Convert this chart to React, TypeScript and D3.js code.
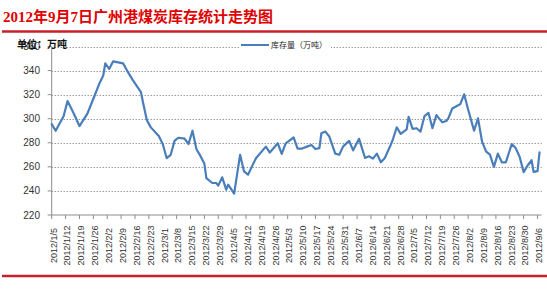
import React from "react";
import * as d3 from "d3";

const title = "2012年9月7日广州港煤炭库存统计走势图";
const seriesName = "库存量（万吨）";
const unitLabel = "单位：万吨";

const dates = [
  "2012/1/5", "2012/1/7", "2012/1/11", "2012/1/13", "2012/1/16", "2012/1/19", "2012/1/23", "2012/1/26",
  "2012/1/29", "2012/1/31", "2012/2/1", "2012/2/3", "2012/2/5", "2012/2/10", "2012/2/12", "2012/2/15",
  "2012/2/19", "2012/2/20", "2012/2/22", "2012/2/24", "2012/2/28", "2012/3/1", "2012/3/3", "2012/3/5",
  "2012/3/7", "2012/3/9", "2012/3/12", "2012/3/14", "2012/3/16", "2012/3/18", "2012/3/20", "2012/3/22",
  "2012/3/23", "2012/3/26", "2012/3/28", "2012/3/29", "2012/3/31", "2012/4/2", "2012/4/3", "2012/4/6",
  "2012/4/9", "2012/4/11", "2012/4/13", "2012/4/17", "2012/4/22", "2012/4/24", "2012/4/28", "2012/4/30",
  "2012/5/2", "2012/5/6", "2012/5/8", "2012/5/10", "2012/5/13", "2012/5/15", "2012/5/17", "2012/5/19",
  "2012/5/20", "2012/5/22", "2012/5/24", "2012/5/27", "2012/5/29", "2012/5/31", "2012/6/3", "2012/6/5",
  "2012/6/8", "2012/6/11", "2012/6/13", "2012/6/15", "2012/6/17", "2012/6/19", "2012/6/21", "2012/6/24",
  "2012/6/25", "2012/6/27", "2012/6/29", "2012/7/2", "2012/7/3", "2012/7/5", "2012/7/7", "2012/7/9",
  "2012/7/11", "2012/7/13", "2012/7/15", "2012/7/17", "2012/7/20", "2012/7/22", "2012/7/23", "2012/7/25",
  "2012/7/28", "2012/7/29", "2012/7/31", "2012/8/2", "2012/8/5", "2012/8/7", "2012/8/9", "2012/8/11",
  "2012/8/13", "2012/8/15", "2012/8/17", "2012/8/19", "2012/8/21", "2012/8/24", "2012/8/26", "2012/8/28",
  "2012/8/30", "2012/9/1", "2012/9/3", "2012/9/4", "2012/9/6", "2012/9/7",
];

const stock = [
  295.5, 290.0, 302.1, 314.7, 304.8, 293.9, 304.3, 316.6,
  329.0, 335.9, 346.0, 341.4, 347.7, 346.0, 340.0, 331.8,
  322.1, 313.9, 298.8, 292.8, 285.6, 279.0, 267.2, 270.0,
  281.8, 284.2, 283.4, 279.0, 290.0, 274.6, 269.1, 262.5,
  250.7, 246.6, 246.6, 244.4, 251.3, 241.1, 245.2, 237.8,
  270.0, 256.2, 253.5, 267.2, 276.8, 271.9, 279.6, 270.8,
  279.6, 284.4, 275.1, 275.1, 277.0, 278.1, 274.8, 275.6,
  288.0, 289.3, 285.2, 271.0, 270.1, 277.0, 281.6, 273.7,
  283.3, 267.4, 268.8, 266.8, 271.0, 263.8, 267.4, 278.4,
  282.5, 292.9, 287.4, 291.2, 301.6, 291.5, 292.1, 289.3,
  302.2, 304.9, 292.1, 303.0, 297.0, 298.1, 300.3, 308.5,
  311.2, 312.0, 320.3, 307.7, 290.1, 300.3, 281.1, 272.9,
  270.1, 260.0, 271.0, 263.8, 263.8, 278.9, 275.6, 268.2,
  255.6, 261.1, 265.5, 255.9, 256.4, 272.0,
];

const tickLabels = [
  "2012/1/5", "2012/1/12", "2012/1/19", "2012/1/26", "2012/2/2", "2012/2/9", "2012/2/16", "2012/2/23",
  "2012/3/1", "2012/3/8", "2012/3/15", "2012/3/22", "2012/3/29", "2012/4/5", "2012/4/12", "2012/4/19",
  "2012/4/26", "2012/5/3", "2012/5/10", "2012/5/17", "2012/5/24", "2012/5/31", "2012/6/7", "2012/6/14",
  "2012/6/21", "2012/6/28", "2012/7/5", "2012/7/12", "2012/7/19", "2012/7/26", "2012/8/2", "2012/8/9",
  "2012/8/16", "2012/8/23", "2012/8/30", "2012/9/6",
];

const xDomain = ["2012/1/5", "2012/9/8"];
const yTicks = [220, 240, 260, 280, 300, 320, 340, 360];

export default function App() {
  const W = 547;
  const H = 301;
  const parse = d3.timeParse("%Y/%m/%d");
  const x = d3
    .scaleTime()
    .domain([parse(xDomain[0]) as Date, parse(xDomain[1]) as Date])
    .range([51.7, 541.5]);
  const y = d3.scaleLinear().domain([220, 360]).range([215, 46.5]);

  const pts: [Date, number][] = dates.map((d, i) => [parse(d) as Date, stock[i]]);
  const line = d3
    .line<[Date, number]>()
    .x((d) => x(d[0]))
    .y((d) => y(d[1]));

  const red = "#c8202a";
  const sans = "'Liberation Sans', Arial, sans-serif";
  const cjk = "'Noto Sans CJK SC', 'Noto Sans', sans-serif";
  const serifCjk = "'Liberation Serif', 'Noto Sans CJK SC', serif";
  const [x0, x1] = x.range();

  return (
    <svg
      width={W}
      height={H}
      style={{ position: "fixed", left: 0, top: 0, background: "#fff" }}
    >
      <rect x={0} y={0} width={W} height={H} fill="#fff" />
      {/* title */}
      <text
        x={3}
        y={22}
        fill="#e00000"
        fontSize={15}
        fontWeight={700}
        fontFamily={serifCjk}
      >
        {title}
      </text>
      <line x1={2} x2={W} y1={31.5} y2={31.5} stroke={red} strokeWidth={2.5} />
      <line x1={2} x2={W} y1={276} y2={276} stroke={red} strokeWidth={2.5} />

      {/* grid lines */}
      {yTicks.slice(1).map((t) => (
        <line
          key={"g" + t}
          x1={x0}
          x2={x1}
          y1={Math.round(y(t)) + 0.5}
          y2={Math.round(y(t)) + 0.5}
          stroke="#6b6b6b"
          strokeWidth={1}
          strokeDasharray="1,2"
        />
      ))}

      {/* y axis */}
      <line x1={x0} x2={x0} y1={y(360)} y2={y(220)} stroke="#8c8c8c" strokeWidth={1} />
      {yTicks.map((t) => (
        <g key={"y" + t}>
          <line x1={x0 - 4} x2={x0} y1={y(t)} y2={y(t)} stroke="#8c8c8c" strokeWidth={1} />
          <text
            x={40}
            y={y(t)}
            dy="0.35em"
            textAnchor="end"
            fontSize={10}
            fontFamily={sans}
            fill="#333"
          >
            {t}
          </text>
        </g>
      ))}

      {/* x axis */}
      <line x1={x0} x2={x1} y1={y(220)} y2={y(220)} stroke="#8c8c8c" strokeWidth={1} />
      {tickLabels.map((lab) => {
        const tx = x(parse(lab) as Date);
        return (
          <g key={"x" + lab}>
            <line x1={tx} x2={tx} y1={y(220)} y2={y(220) + 4} stroke="#8c8c8c" strokeWidth={1} />
            <text
              transform={`translate(${tx + 4.8},245.5) rotate(-90)`}
              textAnchor="middle"
              fontSize={9}
              fontFamily={sans}
              fill="#333"
            >
              {lab}
            </text>
          </g>
        );
      })}

      {/* unit label */}
      <text x={17} y={48} fontSize={10} fontWeight={700} fontFamily={cjk} fill="#111">
        {unitLabel}
      </text>

      {/* legend */}
      <rect x={239} y={40} width={92} height={10} fill="#fff" />
      <line x1={241} x2={269} y1={45} y2={45} stroke="#4a7ebb" strokeWidth={2} />
      <text x={271} y={48} fontSize={8} fontFamily={cjk} fill="#222">
        {seriesName}
      </text>

      {/* series */}
      <path
        d={line(pts) || ""}
        fill="none"
        stroke="#4a7ebb"
        strokeWidth={2.2}
        strokeLinejoin="round"
        strokeLinecap="round"
      />
    </svg>
  );
}
